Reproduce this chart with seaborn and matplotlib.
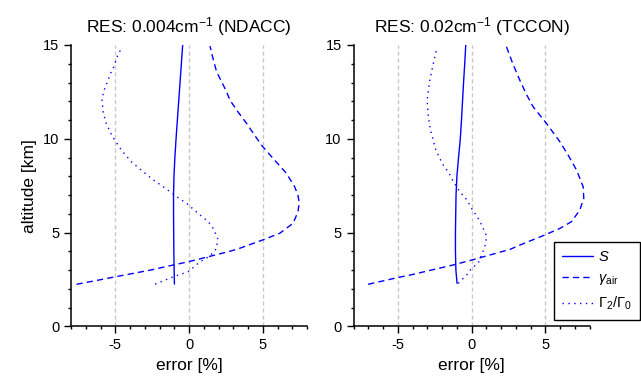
import matplotlib
matplotlib.use("Agg")
import matplotlib.pyplot as plt
import numpy as np
import pandas as pd
import seaborn as sns
from matplotlib.lines import Line2D
from matplotlib.ticker import MultipleLocator

# panel titles and series names
titles = ["RES: 0.004cm$^{-1}$ (NDACC)", "RES: 0.02cm$^{-1}$ (TCCON)"]
params = ["S", "gamma_air", "Gamma2_Gamma0"]
legendLabels = [r"$S$", r"$\gamma_{\rm air}$", r"$\Gamma_2/\Gamma_0$"]

# NDACC panel (altitude in km, error in %)
ndaccSAlt = [2.25, 3.0, 4.0, 5.0, 6.0, 7.0, 8.0, 9.0, 10.0, 11.0, 12.0, 13.0, 14.0, 15.0]
ndaccSErr = [-0.99, -1.01, -1.03, -1.04, -1.05, -1.05, -1.02, -0.96, -0.88, -0.79, -0.7, -0.61, -0.52, -0.43]

ndaccGammaAlt = [2.24, 2.38, 2.64, 3.0, 3.27, 3.45, 3.98, 4.1, 4.6, 4.96, 5.49, 6.11, 6.6, 7.0, 7.44,
                 8.16, 8.95, 9.66, 10.3, 10.82, 11.4, 12.06, 12.5, 13.04, 13.57, 14.3, 14.94]
ndaccGammaErr = [-7.63, -6.69, -5.0, -2.6, -1.06, 0.0, 2.66, 3.22, 4.98, 6.15, 7.05, 7.39, 7.47, 7.38, 7.16,
                 6.6, 5.7, 4.91, 4.35, 3.9, 3.35, 2.77, 2.55, 2.21, 1.87, 1.62, 1.42]

ndaccRatioAlt = [2.25, 2.64, 2.91, 3.44, 3.75, 4.16, 4.69, 5.22, 5.58, 6.06, 6.52, 6.95, 7.41, 7.8, 8.3,
                 8.78, 9.4, 9.97, 10.29, 10.85, 11.44, 12.06, 12.5, 12.95, 13.52, 13.84, 14.41, 14.78]
ndaccRatioErr = [-2.3, -1.06, -0.05, 0.74, 1.42, 1.87, 1.94, 1.64, 1.3, 0.56, -0.11, -0.9, -1.69, -2.41, -3.2,
                 -3.92, -4.59, -5.07, -5.3, -5.63, -5.82, -5.9, -5.8, -5.58, -5.3, -5.1, -4.85, -4.62]

# TCCON panel
tcconSAlt = [2.29, 3.0, 4.0, 5.0, 6.0, 7.0, 8.0, 9.0, 10.0, 11.0, 12.0, 13.0, 14.0, 15.0]
tcconSErr = [-0.98, -1.06, -1.09, -1.09, -1.07, -1.05, -0.99, -0.88, -0.76, -0.68, -0.61, -0.54, -0.46, -0.39]

tcconGammaAlt = [2.24, 2.6, 2.73, 3.27, 3.53, 4.1, 4.33, 4.87, 5.22, 5.58, 6.2, 6.82, 7.44, 8.33,
                 9.13, 9.84, 10.82, 11.7, 12.4, 13.13, 14.0, 14.9]
tcconGammaErr = [-7.01, -5.0, -4.18, -1.25, 0.0, 2.6, 3.27, 4.97, 5.99, 6.78, 7.34, 7.61, 7.57, 7.12,
                 6.55, 5.99, 5.08, 4.18, 3.7, 3.27, 2.8, 2.37]

tcconRatioAlt = [2.29, 2.73, 3.09, 3.36, 3.8, 4.24, 4.51, 4.81, 5.31, 5.76, 6.29, 6.73, 7.17, 7.8, 8.16,
                 8.6, 8.95, 9.4, 9.93, 10.46, 11.2, 12.06, 13.13, 14.37, 14.85]
tcconRatioErr = [-0.9, -0.34, 0.0, 0.45, 0.68, 0.9, 0.97, 1.02, 0.75, 0.45, 0.0, -0.3, -0.79, -1.29, -1.52,
                 -1.92, -2.15, -2.42, -2.6, -2.78, -2.93, -3.01, -2.83, -2.49, -2.33]


def buildFrame(curves):
    # curves: list of (param, altitudes, errors)
    rows = []
    for name, alts, errs in curves:
        for a, e in zip(alts, errs):
            rows.append({"param": name, "altitude": a, "error": e})
    return pd.DataFrame(rows)


panels = [
    buildFrame([(params[0], ndaccSAlt, ndaccSErr),
                (params[1], ndaccGammaAlt, ndaccGammaErr),
                (params[2], ndaccRatioAlt, ndaccRatioErr)]),
    buildFrame([(params[0], tcconSAlt, tcconSErr),
                (params[1], tcconGammaAlt, tcconGammaErr),
                (params[2], tcconRatioAlt, tcconRatioErr)]),
]

sns.set_style("ticks")
plt.rcParams["font.family"] = ["Liberation Sans", "DejaVu Sans"]
plt.rcParams["mathtext.fontset"] = "custom"
plt.rcParams["mathtext.rm"] = "Liberation Sans"
plt.rcParams["mathtext.it"] = "Liberation Sans:italic"
plt.rcParams["axes.unicode_minus"] = False
for key in ["text.color", "axes.labelcolor", "xtick.color", "ytick.color", "axes.edgecolor"]:
    plt.rcParams[key] = "black"

dashStyles = {params[0]: "", params[1]: (4.5, 3), params[2]: (1, 3.2)}
lineColour = "#0000ff"

fig = plt.figure(figsize=(6.41, 3.80), dpi=100)
axLeft = fig.add_axes([0.1108, 0.1413, 0.3682, 0.7403])
axRight = fig.add_axes([0.5515, 0.1413, 0.3682, 0.7403])

for ax, df, title in zip([axLeft, axRight], panels, titles):
    ax.grid(axis="x", which="major", color="#c8c8c8", linestyle=(0, (3, 2)), linewidth=1)
    sns.lineplot(data=df, x="error", y="altitude", style="param", dashes=dashStyles,
                 sort=False, estimator=None, color=lineColour, linewidth=1, legend=False, ax=ax)
    ax.set_xlim(-8, 8)
    ax.set_ylim(0, 15)
    ax.xaxis.set_major_locator(MultipleLocator(5))
    ax.xaxis.set_minor_locator(MultipleLocator(1))
    ax.yaxis.set_major_locator(MultipleLocator(5))
    ax.yaxis.set_minor_locator(MultipleLocator(1))
    ax.tick_params(which="major", direction="out", length=5, width=1, labelsize=10.5)
    ax.tick_params(which="minor", direction="out", length=2.5, width=1)
    for side in ["top", "right"]:
        ax.spines[side].set_visible(False)
    for side in ["left", "bottom"]:
        ax.spines[side].set_linewidth(1.1)
    ax.set_title(title, fontsize=12.5, pad=9)
    ax.set_xlabel("error [%]", fontsize=12.5)
    ax.set_ylabel("")

axLeft.set_ylabel("altitude [km]", fontsize=12.5)

handles = []
for p in params:
    h = Line2D([], [], color=lineColour, linewidth=1)
    if dashStyles[p]:
        h.set_dashes(dashStyles[p])
    handles.append(h)

leg = fig.legend(handles, legendLabels, loc="upper right", bbox_to_anchor=(640 / 641, 1 - 242 / 380),
                 fontsize=10.5, frameon=True, fancybox=False, edgecolor="black", framealpha=1,
                 handlelength=2.1, handletextpad=0.35, borderpad=0.55, labelspacing=0.5, borderaxespad=0)
leg.get_frame().set_linewidth(1)

fig.savefig("out.png", dpi=100)
